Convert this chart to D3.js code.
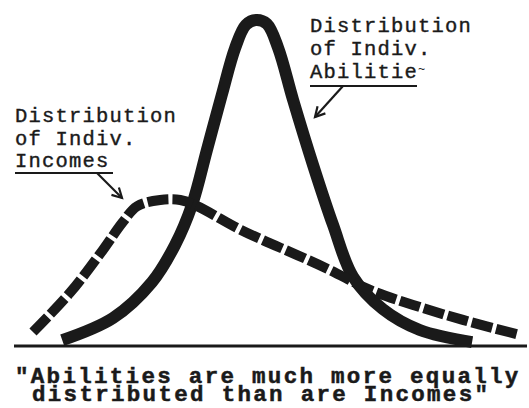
<!DOCTYPE html>
<html>
<head>
<meta charset="utf-8">
<script src="https://cdn.jsdelivr.net/npm/d3@7"></script>
<style>
  body { margin: 0; background: #fff; }
  svg { display: block; }
  .typed { font-family: "Liberation Mono", "DejaVu Sans Mono", monospace; fill: #1a1a1a; }
</style>
</head>
<body>
<div id="chart"></div>
<script>
// Abilities curve (solid), x = position along scale, y = relative frequency
const abilityX = [9.4, 19.3, 26.9, 31.4, 34.7, 37.6, 40.5, 43.1, 45.2, 47.2, 49.3, 51.5, 54.4, 58.3, 62.2, 66.1, 71.9, 79.1, 89.3];
const abilityY = [1.8, 8.6, 19.6, 31.0, 43.3, 60.1, 77.0, 91.4, 98.5, 100, 98.8, 91.4, 75.5, 55.5, 37.1, 21.2, 11.3, 4.9, 1.2];

// Incomes curve (dashed)
const incomeX = [3.7, 10.9, 17.3, 21.2, 24.0, 28.5, 32.4, 35.7, 43.5, 48.5, 55.2, 61.6, 69.4, 77.8, 87.5, 98.6];
const incomeY = [4.3, 16.3, 29.4, 38.0, 42.9, 44.8, 44.8, 42.9, 36.2, 32.5, 27.9, 23.3, 17.2, 12.6, 8.0, 3.4];

const abilityLabel = ["Distribution", "of Indiv.", "Abilitie"];
const incomeLabel = ["Distribution", "of Indiv.", "Incomes"];
const caption = ["\"Abilities are much more equally", "distributed than are Incomes\""];

const width = 529, height = 408;
const ink = "#1a1a1a";

const svg = d3.select("#chart")
    .append("svg")
    .attr("width", width)
    .attr("height", height);

svg.append("rect").attr("width", width).attr("height", height).attr("fill", "#fff");

const x = d3.scaleLinear().domain([0, 100]).range([14, 527]);
const y = d3.scaleLinear().domain([0, 100]).range([346, 20]);

const line = d3.line()
    .x(d => x(d[0]))
    .y(d => y(d[1]))
    .curve(d3.curveCatmullRom.alpha(0.5));

// baseline
svg.append("line")
    .attr("x1", x(0)).attr("x2", x(100))
    .attr("y1", y(0)).attr("y2", y(0))
    .attr("stroke", ink)
    .attr("stroke-width", 3);

// abilities: solid
svg.append("path")
    .datum(d3.zip(abilityX, abilityY))
    .attr("d", line)
    .attr("fill", "none")
    .attr("stroke", ink)
    .attr("stroke-width", 12)
    .attr("stroke-linejoin", "round");

// incomes: dashed
svg.append("path")
    .datum(d3.zip(incomeX, incomeY))
    .attr("d", line)
    .attr("fill", "none")
    .attr("stroke", ink)
    .attr("stroke-width", 10)
    .attr("stroke-dasharray", "21 4");

// labels, one text per typed line
function label(lines, left, top, size, spacing) {
    return lines.map((s, i) => svg.append("text")
        .attr("class", "typed")
        .attr("x", left)
        .attr("y", top + i * spacing)
        .style("font-size", size + "px")
        .style("letter-spacing", (13.5 - size * 0.6) + "px")
        .attr("stroke", ink)
        .attr("stroke-width", 0.4)
        .text(s));
}

label(abilityLabel, 310, 32, 20.5, 23);
label(incomeLabel, 15, 122, 20.5, 22.5);

// the smudged last letter of "Abilitie"
svg.append("text")
    .attr("class", "typed")
    .attr("x", 310 + abilityLabel[2].length * 13.5)
    .attr("y", 73)
    .style("font-size", "12px")
    .text("~");

// underlines
svg.append("line").attr("x1", 310).attr("x2", 417).attr("y1", 86).attr("y2", 86)
    .attr("stroke", ink).attr("stroke-width", 2);
svg.append("line").attr("x1", 15).attr("x2", 113).attr("y1", 173).attr("y2", 173)
    .attr("stroke", ink).attr("stroke-width", 2);

// arrows
function arrow(x1, y1, x2, y2) {
    const a = Math.atan2(y2 - y1, x2 - x1);
    const len = 11, spread = 0.5;
    svg.append("line").attr("x1", x1).attr("y1", y1).attr("x2", x2).attr("y2", y2)
        .attr("stroke", ink).attr("stroke-width", 2.2);
    svg.append("path")
        .attr("d", `M${x2 - len * Math.cos(a - spread)},${y2 - len * Math.sin(a - spread)}L${x2},${y2}L${x2 - len * Math.cos(a + spread)},${y2 - len * Math.sin(a + spread)}`)
        .attr("fill", "none")
        .attr("stroke", ink)
        .attr("stroke-width", 2.2);
}
arrow(343, 86, 315, 117);
arrow(97, 173, 122, 198);

// caption, typed at ~15.8px per character
const capSize = 22.5;
const perChar = 15.8;
[[15, 383], [32, 401]].forEach(([cx, cy], i) => {
    svg.append("text")
        .attr("class", "typed")
        .attr("x", cx)
        .attr("y", cy)
        .style("font-size", capSize + "px")
        .style("font-weight", "bold")
        .style("letter-spacing", (perChar - capSize * 0.6) + "px")
        .attr("stroke", ink)
        .attr("stroke-width", 0.5)
        .text(caption[i]);
});
</script>
</body>
</html>
